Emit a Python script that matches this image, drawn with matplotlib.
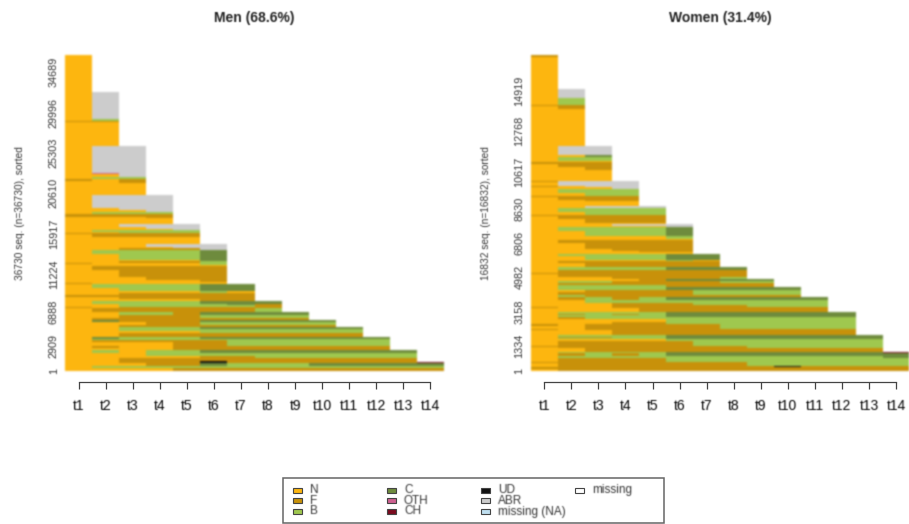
import matplotlib
matplotlib.use("Agg")
import numpy as np
from matplotlib import pyplot as plt
from matplotlib.colors import ListedColormap
from matplotlib.patches import Rectangle
from matplotlib.text import Text

plt.rcParams['font.family'] = ['Liberation Sans', 'DejaVu Sans']

# state codes used in the row strings
state_codes = ['N', 'F', 'B', 'C', 'O', 'H', 'U', 'A', 'X', 'M']
state_names = ['N', 'F', 'B', 'C', 'OTH', 'CH', 'UD', 'ABR', 'missing (NA)', 'missing']
state_colors = ['#FDB60F', '#C8920A', '#9FC84F', '#6E8B3D', '#CD6090', '#7A0A1E', '#111111', '#CCCCCC', '#BFDFF0', '#FFFFFF']

time_labels = ['t1', 't2', 't3', 't4', 't5', 't6', 't7', 't8', 't9', 't10', 't11', 't12', 't13', 't14']

# rows from the top of the panel down: how many sequences, states over time
men_states = [
    'N', 'NA', 'NB', 'FF', 'NN', 'NAA', 'NOA', 'NNA', 'NBB', 'FNF', 'NNF', 'NNN',
    'NAAA', 'NNAA', 'NNNA', 'NBBB', 'FFFF', 'NNNF', 'NNNN',
    'NNAAA', 'NNNAA', 'NNNNA', 'NBBBB', 'NNBBB', 'FFFFF', 'NFFFF', 'NNNNN',
    'NNNAAA', 'NNNNAA', 'NNFFFA', 'NBBBBC', 'NNBBBC', 'NNNNNC', 'NNFFFB', 'FNNNNB', 'NNNNNB',
    'NNNNNN', 'NFFFFF', 'NNFFFF', 'NNNFFF', 'NNNNNF', 'NNNNNN', 'FNNNNN',
    'NBBBBCC', 'NNBBBCC', 'NNNNNBN', 'NNFFFFF', 'FFFFFFF', 'NNFFFFF', 'NNNNNFF',
    'NBBBBCCC', 'NNBBBBCF', 'NNBBBBBF', 'FNFFFFFF', 'NFFFFFFB',
    'NNBBFCCCC', 'NNFFFBBBB', 'NFFFFFFFF',
    'NCFFFCCCCC', 'NNNFFBBBBB', 'NNFFFFFFFF',
    'NNBBBCCCCCC', 'NNBBBBBBBBB', 'NNNNNBBBBBB', 'NNFFFFFFFFF',
    'NCBBBCCCCCCC', 'NBBBBBBBBBBB', 'NFFFFFBBBBBB', 'NNNNFFBBBBBB', 'NFNNFFFFFFFF', 'NNNNFFFFFFFF',
    'NBNBBCCCCCCCC', 'NNNBBBBBBBBBB', 'NNNNNFFBBBBBB', 'NNFFFFFFFFFFF', 'NNFFFUFFFFFFF',
    'NNFFFUFFFFFFFH', 'NNNFFCBBBCCCCC', 'NBBBBBBBBBBBBB', 'NNNNFFFFFFFFFF',
]
men_counts = [
    4250, 3132, 232, 174, 2726, 3132, 116, 348, 232, 290, 174, 1450,
    1508, 174, 232, 290, 290, 174, 696,
    290, 232, 116, 232, 116, 174, 348, 812,
    290, 174, 232, 406, 754, 116, 174, 116, 116,
    116, 464, 870, 290, 232, 116, 174,
    406, 406, 174, 290, 232, 232, 232,
    348, 116, 232, 116, 464,
    290, 348, 290,
    174, 348, 232,
    232, 232, 232, 464,
    232, 174, 232, 464, 232, 232,
    290, 348, 290, 290, 116,
    116, 348, 290, 348,
]

women_states = [
    'F', 'N', 'NA', 'NB', 'FF', 'NF', 'NN',
    'NAA', 'NNC', 'NBB', 'NNN', 'FFF', 'NFF', 'NNF', 'NNN',
    'FAAA', 'NAAA', 'FNAA', 'NNNA', 'NBBB', 'NNBB', 'FFFF', 'NFFF', 'NNFF', 'NNNN',
    'NNAAA', 'NBBBB', 'NNBBB', 'FFFFF', 'NFFFF', 'NNFFF', 'NNNNN',
    'NNNAAA', 'NNNNNA', 'NBBBBC', 'NNBBBC', 'NNNNNB', 'NNNNNN', 'NFFFFF', 'NNFFFF', 'NNNFFF', 'NNNNFF', 'NNNNNN',
    'NBBBBCC', 'NNBBBCC', 'NNNNNBN', 'NFFFFFF', 'NNFFFFF',
    'NBBBBCCC', 'NFFFFFFF', 'FFFFFFFF', 'NFFFFFFF', 'NNNFFFFB',
    'NNNNFCCCC', 'NBBFFFFBB', 'NFFFFFFFF', 'NBBBBFFFF',
    'NBBBBCCCCC', 'NNFFFFBBBB', 'NFFFFFBBBB', 'NBFFFFFFFF',
    'NBBBBCCCCCH', 'NFBFBCCCCCC', 'NNBBBBBBBBB', 'NNNFFFBBBBB', 'NNNFFFFFBBB', 'FNNFFFFFFFF', 'NNNNFFFFFFF',
    'NBBBBCCCCCCC', 'NFBFBCCCCCCC', 'NBBBBCCCCCCC', 'NFBBBBBBBBBB', 'NNNNNBBBBBBB', 'NNNFFBBBBBBB', 'FNFFFFFBBBBB', 'NNFFFFFBBBBB', 'FNFFFFFFFFFF', 'NNNFFFFFFFFF',
    'NBBBBCCCCCCCC', 'NFFBBCCCCCCCC', 'NBBBBCCCCCCCC', 'NNNNNBBBBBBBB', 'NFFFFFBBBBBBB', 'FFFFFFFFBBBBB', 'NFFFFFFFBBBBB', 'NNFFFFFFFFFFF',
    'NBBBBCCCCCCCCH', 'NFBFBCCCCCCCCC', 'NBBBBBBBBBBBBC', 'NFFFFBBBBBBBBB', 'FFFFFFFFBBBBBB', 'NFFFFFFFBBBBBB',
    'NFFFFFFFFUFFFF', 'FFFFFFFFFFFFFF', 'NFFFFFFFFFFFFF',
]
women_counts = [
    80, 1736, 481, 347, 53, 160, 1976,
    507, 107, 214, 53, 107, 160, 160, 587,
    53, 187, 80, 107, 187, 160, 80, 134, 53, 294,
    107, 187, 160, 53, 187, 187, 53,
    107, 53, 214, 267, 134, 53, 187, 294, 107, 53, 107,
    134, 187, 80, 107, 214,
    134, 160, 53, 160, 134,
    107, 107, 107, 107,
    134, 134, 134, 107,
    27, 160, 134, 134, 107, 53, 214,
    107, 53, 80, 107, 160, 134, 80, 160, 53, 267,
    107, 53, 80, 107, 240, 53, 80, 214,
    53, 160, 80, 214, 53, 187,
    53, 80, 107,
]

men_ticks = [1, 2909, 6888, 11224, 15917, 20610, 25303, 29996, 34689]
women_ticks = [1, 1334, 3158, 4982, 6806, 8630, 10617, 12768, 14919]


# the reference is a soft upscaled screenshot, so smooth marks and text a little
def make_blur(kernel):
    kernel = np.array(kernel) / sum(kernel)
    half = len(kernel) // 2

    def blur(img, dpi):
        a = np.pad(img, ((half + 1, half + 1), (half + 1, half + 1), (0, 0)))
        a[..., :3] *= a[..., 3:]
        for axis in [0, 1]:
            a = sum(w * np.roll(a, k - half, axis=axis) for k, w in enumerate(kernel))
        alpha = np.clip(a[..., 3:], 1e-6, 1)
        a[..., :3] = np.clip(a[..., :3] / alpha, 0, 1)
        return a, -(half + 1), -(half + 1)
    return blur


def draw_panel(ax, states, counts, ticks, title, ylabel):
    # one mesh cell per row and time unit, empty cells stay white
    y_edges = np.cumsum([0] + counts[::-1])
    cells = np.full((len(states), 14), np.nan)
    for i, row in enumerate(states[::-1]):
        for t, s in enumerate(row):
            cells[i, t] = state_codes.index(s)
    mesh = ax.pcolormesh(np.arange(15), y_edges, np.ma.masked_invalid(cells),
                         cmap=ListedColormap(state_colors), vmin=-0.5, vmax=9.5, linewidth=0)
    mesh.set_agg_filter(make_blur([1, 4, 6, 4, 1]))

    ax.set_xlim(0, 14)
    ax.set_ylim(0, sum(counts))
    ax.set_xticks([t + 0.5 for t in range(14)])
    ax.set_xticklabels(time_labels, fontsize=8, color='#333333')
    ax.set_yticks(ticks)
    ax.set_yticklabels(ticks, rotation=90, va='center', fontsize=7.8, color='#333333')
    ax.tick_params(axis='x', length=5, width=0.9, color='#444444', pad=7)
    ax.tick_params(axis='y', length=0, pad=4.5)

    for side in ['top', 'left', 'right']:
        ax.spines[side].set_visible(False)
    ax.spines['bottom'].set_position(('outward', 8))
    ax.spines['bottom'].set_bounds(0.5, 13.5)
    ax.spines['bottom'].set_color('#444444')
    ax.spines['bottom'].set_linewidth(0.9)
    ax.set_title(title, fontsize=10, fontweight='bold', color='#222222', y=1.0, pad=24)
    ax.set_ylabel(ylabel, fontsize=7.3, color='#333333', labelpad=17)


W, H = 909, 524
fig = plt.figure(figsize=(W / 100, H / 100), dpi=100)

ax1 = fig.add_axes([65 / W, 1 - 371 / H, 379 / W, 316 / H])
draw_panel(ax1, men_states, men_counts, men_ticks, 'Men (68.6%)', '36730 seq. (n=36730), sorted')

ax2 = fig.add_axes([530.7 / W, 1 - 371 / H, 379 / W, 316 / H])
draw_panel(ax2, women_states, women_counts, women_ticks, 'Women (31.4%)', '16832 seq. (n=16832), sorted')

# legend box drawn by hand, R fills columns 3/3/3/1
leg = fig.add_axes([0, 0, 1, 1])
leg.set_xlim(0, W)
leg.set_ylim(H, 0)
leg.axis('off')
leg.add_patch(Rectangle((283, 478), 381, 45, facecolor='white', edgecolor='#666666', linewidth=1.1))
col_x = [293, 387, 481, 575]
row_y = [490, 500.5, 511.5]
for i, name in enumerate(state_names):
    cx = col_x[i // 3]
    cy = row_y[i % 3]
    leg.add_patch(Rectangle((cx, cy - 2.5), 9, 5, facecolor=state_colors[i], edgecolor='#444444', linewidth=0.8))
    leg.text(cx + 17, cy, name, fontsize=8.5, va='center', color='#333333')

for txt in fig.findobj(Text):
    txt.set_agg_filter(make_blur([1, 3, 1]))

plt.savefig('out.png', dpi=100)
